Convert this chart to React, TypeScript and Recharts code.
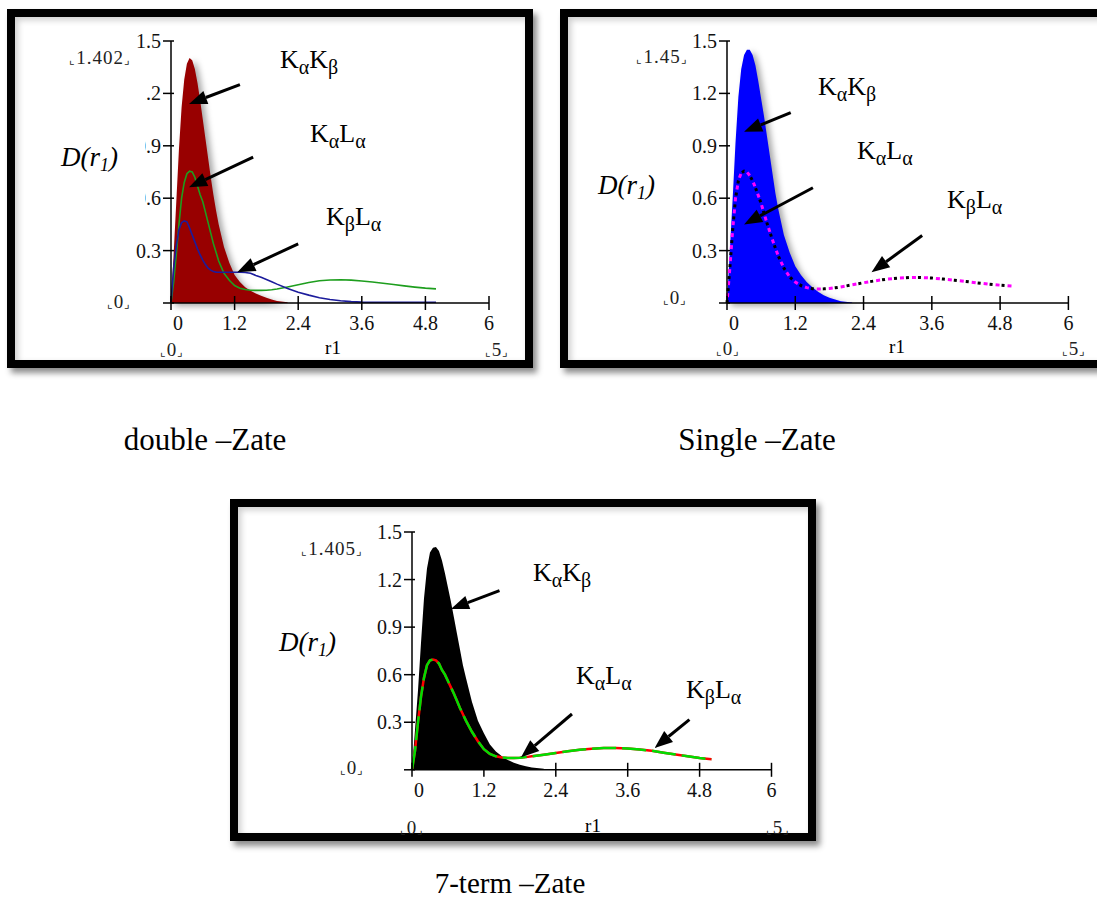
import { Area, ComposedChart, Line, ReferenceLine, XAxis, YAxis } from 'recharts'

// shared radial grid r1 (bohr)
const r = [
  0, 0.05, 0.1, 0.15, 0.2, 0.25, 0.3, 0.35, 0.4, 0.45, 0.5, 0.55, 0.6, 0.65, 0.7, 0.75, 0.8, 0.85, 0.9,
  1.0, 1.1, 1.2, 1.3, 1.4, 1.5, 1.6, 1.7, 1.8, 1.9, 2.0,
  2.2, 2.4, 2.6, 2.8, 3.0, 3.2, 3.4, 3.6, 3.8, 4.0, 4.2, 4.4, 4.6, 4.8, 5.0,
]

const N = null

// double-zeta
const doubleKaKb = [
  0, 0.28, 0.58, 0.88, 1.12, 1.28, 1.37, 1.402, 1.39, 1.34, 1.26, 1.16, 1.05, 0.94, 0.83, 0.72, 0.62, 0.53, 0.45,
  0.32, 0.23, 0.16, 0.12, 0.09, 0.07, 0.055, 0.042, 0.03, 0.02, 0.012,
  0.005, N, N, N, N, N, N, N, N, N, N, N, N, N, N,
]
const doubleKaLa = [
  0, 0.12, 0.28, 0.45, 0.6, 0.69, 0.74, 0.755, 0.75, 0.72, 0.67, 0.62, 0.58, 0.52, 0.46, 0.4, 0.34, 0.29, 0.24,
  0.17, 0.13, 0.1, 0.085, 0.077, 0.073, 0.072, 0.072, 0.073, 0.076, 0.08,
  0.092, 0.105, 0.117, 0.127, 0.132, 0.133, 0.131, 0.126, 0.12, 0.113, 0.106, 0.098, 0.091, 0.085, 0.081,
]
const doubleKbLa = [
  0, 0.2, 0.33, 0.42, 0.46, 0.47, 0.465, 0.43, 0.39, 0.35, 0.31, 0.275, 0.245, 0.22, 0.2, 0.188, 0.18, 0.177, 0.176,
  0.176, 0.176, 0.176, 0.176, 0.175, 0.17, 0.158, 0.147, 0.135, 0.122, 0.108,
  0.083, 0.062, 0.045, 0.03, 0.02, 0.013, 0.008, 0.005, 0.004, 0.004, 0.004, 0.004, 0.004, 0.004, 0.004,
]

// single-zeta
const singleKaKb = [
  0, 0.3, 0.6, 0.92, 1.18, 1.34, 1.42, 1.45, 1.45, 1.42, 1.36, 1.27, 1.17, 1.07, 0.96, 0.85, 0.74, 0.63, 0.54,
  0.39, 0.29, 0.21, 0.16, 0.12, 0.09, 0.065, 0.045, 0.03, 0.02, 0.01,
  0.003, N, N, N, N, N, N, N, N, N, N, N, N, N, N,
]
const singleKaLa = [
  0, 0.2, 0.42, 0.6, 0.7, 0.745, 0.755, 0.75, 0.73, 0.7, 0.66, 0.615, 0.57, 0.515, 0.46, 0.41, 0.36, 0.315, 0.27,
  0.2, 0.15, 0.12, 0.1, 0.088, 0.082, 0.08, 0.081, 0.083, 0.087, 0.092,
  0.104, 0.116, 0.127, 0.136, 0.142, 0.146, 0.146, 0.143, 0.137, 0.13, 0.123, 0.115, 0.108, 0.102, 0.097,
]
const singleKbLa = [
  0, 0.2, 0.42, 0.6, 0.7, 0.745, 0.755, 0.75, 0.73, 0.7, 0.66, 0.615, 0.57, 0.515, 0.46, 0.41, 0.36, 0.315, 0.27,
  0.2, 0.15, 0.12, 0.1, 0.088, 0.082, 0.08, 0.081, 0.083, 0.087, 0.092,
  0.104, 0.116, 0.127, 0.136, 0.142, 0.146, 0.146, 0.143, 0.137, 0.13, 0.123, 0.115, 0.108, 0.102, 0.097,
]

// 7-term
const sevenKaKb = [
  0, 0.25, 0.5, 0.8, 1.08, 1.27, 1.37, 1.4, 1.405, 1.38, 1.32, 1.24, 1.15, 1.06, 0.96, 0.86, 0.76, 0.66, 0.58,
  0.43, 0.31, 0.23, 0.16, 0.115, 0.085, 0.062, 0.045, 0.032, 0.022, 0.015,
  0.006, N, N, N, N, N, N, N, N, N, N, N, N, N, N,
]
const sevenKaLa = [
  0, 0.12, 0.3, 0.46, 0.58, 0.66, 0.69, 0.695, 0.69, 0.67, 0.63, 0.6, 0.56, 0.52, 0.48, 0.435, 0.39, 0.35, 0.31,
  0.24, 0.18, 0.13, 0.1, 0.085, 0.078, 0.075, 0.075, 0.076, 0.08, 0.085,
  0.095, 0.106, 0.117, 0.126, 0.133, 0.137, 0.137, 0.134, 0.128, 0.12, 0.108, 0.097, 0.085, 0.074, 0.066,
]
const sevenKbLa = sevenKaLa

const xTicks = [0, 1.2, 2.4, 3.6, 4.8, 6]
const yTicks = [0, 0.3, 0.6, 0.9, 1.2, 1.5]

// arrow annotations in data coords: [r1, D] tail -> tip
const doubleArrows = [
  { from: [1.3, 1.25], to: [0.34, 1.14] },
  { from: [1.55, 0.835], to: [0.34, 0.663] },
  { from: [2.4, 0.339], to: [1.25, 0.176] },
]
const singleArrows = [
  { from: [1.12, 1.09], to: [0.3, 0.98] },
  { from: [1.51, 0.66], to: [0.3, 0.45] },
  { from: [3.43, 0.386], to: [2.54, 0.176] },
]
const sevenArrows = [
  { from: [1.46, 1.13], to: [0.65, 1.015] },
  { from: [2.67, 0.352], to: [1.82, 0.079] },
  { from: [4.63, 0.317], to: [4.05, 0.138] },
]

const serif = '"Liberation Serif", "Times New Roman", serif'

function table(cols: Record<string, (number | null)[]>) {
  return r.map((rv, i) => {
    const row: Record<string, number | null> = { r: rv }
    for (const k in cols) row[k] = cols[k][i]
    return row
  })
}

function XTick(props: any) {
  const { x, y, payload } = props
  const v = payload.value
  return (
    <g>
      <line x1={x} x2={x} y1={y - 7} y2={y + 7} stroke='#000' strokeWidth={1.5} />
      <text x={v === 0 ? x + 7 : x} y={y + 27} textAnchor='middle' fontFamily={serif} fontSize={20} fill='#111'>
        {v}
      </text>
    </g>
  )
}

function YTick(props: any) {
  const { x, y, payload } = props
  const v = payload.value
  return (
    <g>
      <line x1={x - 8} x2={x + 3} y1={y} y2={y} stroke='#000' strokeWidth={1.5} />
      {v !== 0 && (
        <text x={x - 10} y={y + 7} textAnchor='end' fontFamily={serif} fontSize={20} fill='#111'>
          {v}
        </text>
      )}
    </g>
  )
}

function ArrowShape(props: any) {
  const { x1, y1, x2, y2 } = props
  const a = Math.atan2(y2 - y1, x2 - x1)
  const len = 18
  const half = 7
  const bx = x2 - len * Math.cos(a)
  const by = y2 - len * Math.sin(a)
  const pts = [
    `${x2},${y2}`,
    `${bx + half * Math.sin(a)},${by - half * Math.cos(a)}`,
    `${bx - half * Math.sin(a)},${by + half * Math.cos(a)}`,
  ].join(' ')
  return (
    <g>
      <line x1={x1} y1={y1} x2={bx} y2={by} stroke='#000' strokeWidth={3} />
      <polygon points={pts} fill='#000' />
    </g>
  )
}

type PanelProps = {
  left: number
  top: number
  width: number
  height: number
  data: any[]
  arrows: { from: number[]; to: number[] }[]
  className?: string
  children: React.ReactNode
}

function Panel({ left, top, width, height, data, arrows, className, children }: PanelProps) {
  return (
    <div className={className} style={{ position: 'absolute', left, top }}>
      <ComposedChart width={width} height={height} data={data} margin={{ top: 10, right: 20, left: 0, bottom: 0 }}>
        <XAxis
          dataKey='r'
          type='number'
          domain={[0, 6]}
          ticks={xTicks}
          interval={0}
          tickSize={0}
          tickMargin={0}
          tickLine={false}
          axisLine={{ stroke: '#000', strokeWidth: 1.5 }}
          tick={XTick}
          height={40}
        />
        <YAxis
          type='number'
          domain={[0, 1.5]}
          ticks={yTicks}
          interval={0}
          tickSize={0}
          tickMargin={0}
          tickLine={false}
          axisLine={{ stroke: '#000', strokeWidth: 1.5 }}
          tick={YTick}
          width={50}
        />
        {children}
        {arrows.map((a, i) => (
          <ReferenceLine
            key={i}
            segment={[
              { x: a.from[0], y: a.from[1] },
              { x: a.to[0], y: a.to[1] },
            ]}
            shape={ArrowShape}
            ifOverflow='visible'
          />
        ))}
      </ComposedChart>
    </div>
  )
}

function Sym({ x, y, a, b, c, d }: { x: number; y: number; a: string; b: string; c: string; d: string }) {
  return (
    <text x={x} y={y} fontFamily={serif} fontSize={26} fill='#000'>
      {a}
      <tspan fontSize={20} dy={6}>{b}</tspan>
      <tspan dy={-6}>{c}</tspan>
      <tspan fontSize={20} dy={6}>{d}</tspan>
    </text>
  )
}

function DLabel({ x, y }: { x: number; y: number }) {
  return (
    <text x={x} y={y} fontFamily={serif} fontSize={27} fontStyle='italic' fill='#000'>
      D(r<tspan fontSize={18} dy={5}>1</tspan>
      <tspan dy={-5}>)</tspan>
    </text>
  )
}

function Lim({ x, y, t }: { x: number; y: number; t: string }) {
  return (
    <text x={x} y={y} textAnchor='middle' fontFamily={serif} fontSize={19} letterSpacing={1} fill='#222'>
      <tspan fontSize={12}>⌞</tspan>
      {t}
      <tspan fontSize={12}>⌟</tspan>
    </text>
  )
}

const frame = (left: number, top: number, width: number, height: number): React.CSSProperties => ({
  position: 'absolute',
  left,
  top,
  width,
  height,
  boxSizing: 'border-box',
  border: '8px solid #000',
  background: '#fff',
  boxShadow: '4px 5px 6px rgba(0,0,0,0.45), inset 3px 3px 6px rgba(0,0,0,0.2)',
})

export default function App() {
  const dData = table({ kk: doubleKaKb, kl: doubleKaLa, bl: doubleKbLa })
  const sData = table({ kk: singleKaKb, kl: singleKaLa, bl: singleKbLa })
  const tData = table({ kk: sevenKaKb, kl: sevenKaLa, bl: sevenKbLa })

  return (
    <div
      style={{
        position: 'absolute',
        left: 0,
        top: 0,
        width: 1097,
        height: 902,
        overflow: 'hidden',
        background: '#fff',
        fontFamily: serif,
      }}
    >
      <style>{`.shade .recharts-area-area { filter: drop-shadow(4px 3px 3px rgba(0,0,0,0.35)); }`}</style>
      <div style={frame(7, 9, 526, 359)} />
      <div style={frame(560, 9, 560, 359)} />
      <div style={frame(230, 499, 586, 342)} />

      <Panel className='shade' left={121} top={30.5} width={388} height={312} data={dData} arrows={doubleArrows}>
        <Area dataKey='kk' type='linear' stroke='none' fill='#980000' fillOpacity={1} isAnimationActive={false} />
        <Line dataKey='kl' type='linear' stroke='#1e9e1e' strokeWidth={1.6} dot={false} activeDot={false} isAnimationActive={false} />
        <Line dataKey='bl' type='linear' stroke='#1c1c9c' strokeWidth={1.6} dot={false} activeDot={false} isAnimationActive={false} />
      </Panel>

      <Panel className='shade' left={676.5} top={30.5} width={411.4} height={312} data={sData} arrows={singleArrows}>
        <Area dataKey='kk' type='linear' stroke='none' fill='#0000ff' fillOpacity={1} isAnimationActive={false} />
        <Line dataKey='kl' type='linear' stroke='#000' strokeWidth={3} strokeDasharray='3 9' dot={false} activeDot={false} isAnimationActive={false} />
        <Line dataKey='bl' type='linear' stroke='#ff00ff' strokeWidth={3} strokeDasharray='4 8' strokeDashoffset={-6} dot={false} activeDot={false} isAnimationActive={false} />
      </Panel>

      <Panel left={361.7} top={522.4} width={429.5} height={287.8} data={tData} arrows={sevenArrows}>
        <Area dataKey='kk' type='linear' stroke='none' fill='#000' fillOpacity={1} isAnimationActive={false} />
        <Line dataKey='bl' type='linear' stroke='#ff0000' strokeWidth={2.5} dot={false} activeDot={false} isAnimationActive={false} />
        <Line dataKey='kl' type='linear' stroke='#00dd00' strokeWidth={2.5} strokeDasharray='24 6' dot={false} activeDot={false} isAnimationActive={false} />
      </Panel>

      <svg width={1097} height={902} style={{ position: 'absolute', left: 0, top: 0, pointerEvents: 'none' }}>
        <rect x={30} y={72} width={115} height={162} fill='#fff' />

        <Lim x={100} y={64} t='1.402' />
        <Lim x={119} y={308} t='0' />
        <Lim x={172} y={356} t='0' />
        <text x={333} y={354} textAnchor='middle' fontFamily={serif} fontSize={19}>r1</text>
        <Lim x={497} y={356} t='5' />
        <DLabel x={61} y={166} />
        <Sym x={280} y={68} a='K' b='α' c='K' d='β' />
        <Sym x={310} y={142} a='K' b='α' c='L' d='α' />
        <Sym x={326} y={225} a='K' b='β' c='L' d='α' />

        <Lim x={662} y={63} t='1.45' />
        <Lim x={675} y={304} t='0' />
        <Lim x={728} y={355} t='0' />
        <text x={897} y={353} textAnchor='middle' fontFamily={serif} fontSize={19}>r1</text>
        <Lim x={1074} y={355} t='5' />
        <DLabel x={598} y={194} />
        <Sym x={818} y={95} a='K' b='α' c='K' d='β' />
        <Sym x={857} y={159} a='K' b='α' c='L' d='α' />
        <Sym x={947} y={208} a='K' b='β' c='L' d='α' />

        <Lim x={332} y={555} t='1.405' />
        <Lim x={352} y={774} t='0' />
        <Lim x={412} y={834} t='0' />
        <text x={593} y={832} textAnchor='middle' fontFamily={serif} fontSize={19}>r1</text>
        <Lim x={778} y={834} t='5' />
        <DLabel x={279} y={651} />
        <Sym x={533} y={581} a='K' b='α' c='K' d='β' />
        <Sym x={576} y={684} a='K' b='α' c='L' d='α' />
        <Sym x={686} y={698} a='K' b='β' c='L' d='α' />

        <text x={205} y={450} textAnchor='middle' fontFamily={serif} fontSize={31}>double –Zate</text>
        <text x={757} y={450} textAnchor='middle' fontFamily={serif} fontSize={31}>Single –Zate</text>
        <text x={510} y={893} textAnchor='middle' fontFamily={serif} fontSize={29}>7-term –Zate</text>
      </svg>
    </div>
  )
}
